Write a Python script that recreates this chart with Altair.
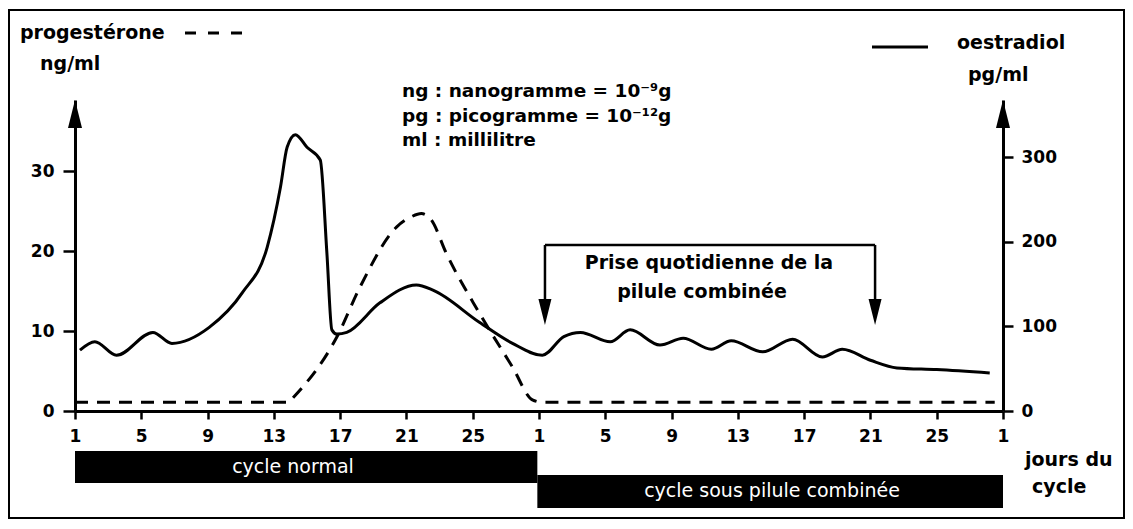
import altair as alt
import pandas as pd

# ---------------- data ----------------
# x = day index across two cycles (0 = day 1 of the normal cycle, 28 = day 1 of the pill cycle)
oes_t = [0.3, 1.2, 2.5, 4.7, 5.85, 8.1, 10.1, 11.6, 12.4, 12.8, 13.3, 14.0, 14.8, 15.2,
         15.5, 15.8, 16.4, 18.4, 20.6, 21.6, 24.4, 26.4, 28.2, 29.5, 30.5, 32.3, 33.5,
         35.3, 36.7, 38.4, 39.6, 41.5, 43.3, 45.1, 46.3, 48.0, 49.6, 52.0, 55.2]
oes_v = [72, 82, 66, 93, 80, 99, 140, 194, 265, 312, 327, 312, 297, 187,
         96, 91, 93, 128, 149, 143, 105, 80, 66, 88, 93, 82, 96,
         78, 86, 73, 83, 70, 85, 64, 73, 60, 51, 49, 45]

prog_t = [0, 12.9, 13.2, 15.8, 17.2, 19.4, 20.3, 20.9, 21.5, 22.4, 24.4, 26.4, 27.6, 28.2, 55.5]
prog_v = [1.1, 1.1, 1.75, 9.25, 15.5, 23.0, 24.3, 24.7, 23.9, 19.75, 12.25, 5.5, 1.4, 1.1, 1.1]

x_ticks = list(range(0, 57, 4))
left_ticks = [0, 10, 20, 30]
right_ticks = [0, 100, 200, 300]

cycle_start = [0, 27.9]
cycle_end = [27.9, 56]
cycle_names = ["cycle normal", "cycle sous pilule combinée"]

pill_days = [28.36, 48.28]      # start / end of daily pill intake (arrows)

notes = ["ng : nanogramme = 10⁻⁹g", "pg : picogramme = 10⁻¹²g", "ml : millilitre"]

FONT = "DejaVu Sans"
XDOM = [0, 56]
LDOM = [0, 38.9]
RDOM = [0, 368]

oes = pd.DataFrame({"t": oes_t, "v": oes_v})
prog = pd.DataFrame({"t": prog_t, "p": prog_v})
one = pd.DataFrame({"k": [0]})

xs = alt.Scale(domain=XDOM, nice=False, zero=False)
ls = alt.Scale(domain=LDOM, nice=False)
rs = alt.Scale(domain=RDOM, nice=False)

axis_common = dict(title=None, grid=False, domainColor="black", domainWidth=3,
                   tickColor="black", tickWidth=2.5, labelColor="black",
                   labelFont=FONT, labelFontSize=17, labelFontWeight="bold")

# one identical x-axis definition for every layer that uses the shared x scale
x_axis = alt.Axis(values=x_ticks, labelExpr="(datum.value % 28) + 1", orient="bottom",
                  tickSize=8, labelPadding=9, labelFlush=False, **axis_common)

# ---------------- progesterone (left axis) ----------------
prog_line = alt.Chart(prog).mark_line(
    color="black", strokeWidth=3, strokeDash=[13, 9], interpolate="monotone"
).encode(
    x=alt.X("t:Q", scale=xs, axis=x_axis),
    y=alt.Y("p:Q", scale=ls, axis=alt.Axis(orient="left", values=left_ticks,
                                           tickSize=12, labelPadding=9, **axis_common)),
)

# ---------------- oestradiol (right axis) ----------------
oes_line = alt.Chart(oes).mark_line(
    color="black", strokeWidth=3, interpolate="monotone"
).encode(
    x=alt.X("t:Q", scale=xs, axis=x_axis),
    y=alt.Y("v:Q", scale=rs, axis=alt.Axis(orient="right", values=right_ticks,
                                           tickSize=10, labelPadding=8, **axis_common)),
)

# ---------------- pill-intake bracket ----------------
pill_df = pd.DataFrame({"t": pill_days})
bracket_h = alt.Chart(pd.DataFrame({"t": [pill_days[0]], "b": [pill_days[1]]})).mark_rule(
    color="black", strokeWidth=2.5
).encode(x=alt.X("t:Q", scale=xs, axis=x_axis), x2="b:Q", y=alt.value(145))
bracket_v = alt.Chart(pill_df).mark_rule(color="black", strokeWidth=2.5).encode(
    x=alt.X("t:Q", scale=xs, axis=x_axis), y=alt.value(145), y2=alt.value(215))
bracket_head = alt.Chart(pill_df).mark_point(
    shape="M0,0 L-0.5,-2 L0.5,-2 Z", size=676, filled=True, color="black", opacity=1, strokeWidth=0
).encode(x=alt.X("t:Q", scale=xs, axis=x_axis), y=alt.value(225))


# ---------------- decorations / text ----------------
def txt(s, x, y, size=19, weight="bold", align="left", color="black"):
    return alt.Chart(one).mark_text(
        text=s, align=align, baseline="middle", fontSize=size, fontWeight=weight,
        color=color, font=FONT
    ).encode(x=alt.value(x), y=alt.value(y))


def hrule(x1, x2, y, dash=None):
    kw = dict(color="black", strokeWidth=3)
    if dash:
        kw["strokeDash"] = dash
    return alt.Chart(one).mark_rule(**kw).encode(x=alt.value(x1), x2=alt.value(x2), y=alt.value(y))


arrow_up = "M0,0 L-0.5,2 L0.5,2 Z"
axis_arrows = [
    alt.Chart(one).mark_point(shape=arrow_up, size=784, filled=True, color="black",
                              opacity=1, strokeWidth=0).encode(x=alt.value(xv), y=alt.value(0))
    for xv in (0, 928)
]

bar1 = alt.Chart(pd.DataFrame({"t": [cycle_start[0]], "e": [cycle_end[0]]})).mark_rect(color="black").encode(
    x=alt.X("t:Q", scale=xs, axis=x_axis), x2="e:Q", y=alt.value(351), y2=alt.value(383))
bar2 = alt.Chart(pd.DataFrame({"t": [cycle_start[1]], "e": [cycle_end[1]]})).mark_rect(color="black").encode(
    x=alt.X("t:Q", scale=xs, axis=x_axis), x2="e:Q", y=alt.value(375), y2=alt.value(408))

frame = alt.Chart(one).mark_rect(fillOpacity=0, stroke="black", strokeWidth=2).encode(
    x=alt.value(-66), x2=alt.value(1049), y=alt.value(-90), y2=alt.value(418))

texts = [
    txt("progestérone", -55, -67),
    hrule(110, 170, -67, dash=[11, 12]),
    txt("ng/ml", -35, -36),
    hrule(797, 853, -53),
    txt("oestradiol", 882, -57),
    txt("pg/ml", 893, -25),
    txt(notes[0], 327, -9, size=18.5),
    txt(notes[1], 327, 16, size=18.5),
    txt(notes[2], 327, 40, size=18.5),
    txt("Prise quotidienne de la", 634, 163, align="center"),
    txt("pilule combinée", 627, 192, align="center"),
    txt("jours du", 950, 360),
    txt("cycle", 957, 387),
    txt(cycle_names[0], 218, 367, size=19, weight="normal", align="center", color="white"),
    txt(cycle_names[1], 697, 391, size=19, weight="normal", align="center", color="white"),
]

chart = alt.layer(
    frame, bar1, bar2, prog_line, oes_line, bracket_h, bracket_v, bracket_head,
    *axis_arrows, *texts
).resolve_scale(y="independent").properties(
    width=928, height=311,
    autosize=alt.AutoSizeParams(type="none"),
    padding={"left": 67, "top": 92, "right": 122, "bottom": 110},
).configure(font=FONT, background="white").configure_view(strokeWidth=0)

chart.save("out.html", embed_options={"renderer": "svg", "actions": False})
